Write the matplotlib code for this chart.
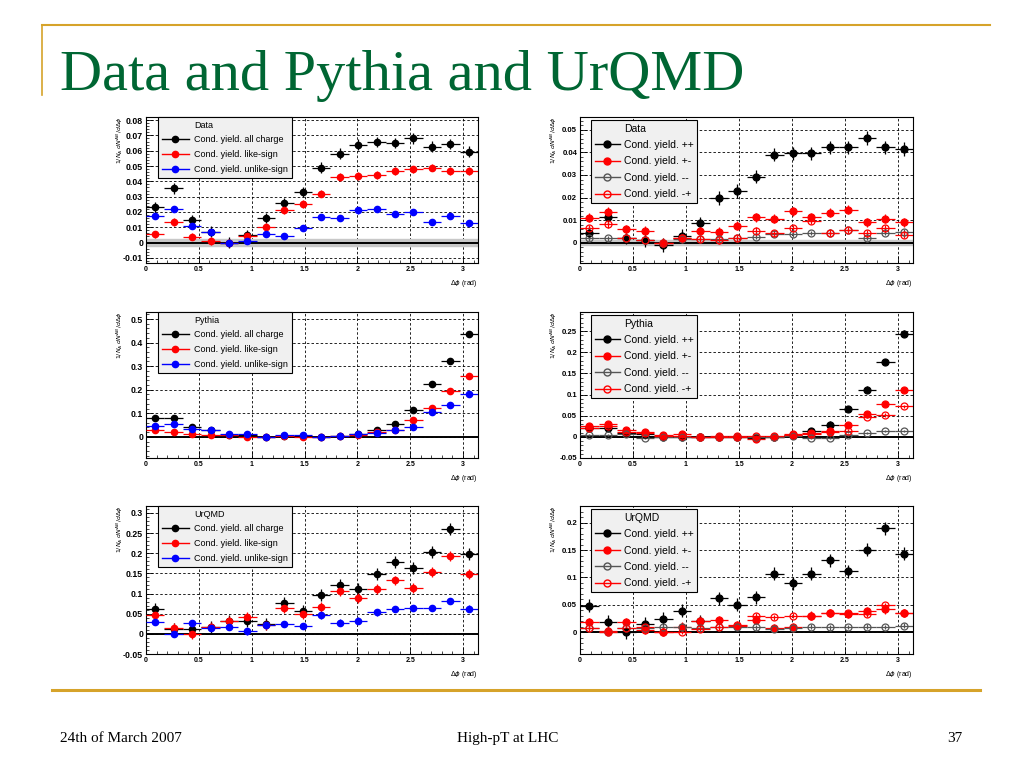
import numpy as np
import matplotlib
matplotlib.use("Agg")
import matplotlib.pyplot as plt
from matplotlib.lines import Line2D
from matplotlib.ticker import MultipleLocator, FormatStrFormatter

plt.rcParams['font.family'] = ['Liberation Sans', 'DejaVu Sans']

# 18 bins in delta phi from 0 to pi
edges = np.linspace(0, np.pi, 19)
phi = 0.5 * (edges[1:] + edges[:-1])
half_bin = 0.5 * (edges[1] - edges[0])

# ---- Data, all / like / unlike sign
data_all = [0.023, 0.0354, 0.0148, 0.0072, 0.0, 0.005, 0.016, 0.0257, 0.033,
            0.049, 0.058, 0.064, 0.0657, 0.065, 0.068, 0.0626, 0.0643, 0.0593]
data_like = [0.0054, 0.0135, 0.0039, 0.001, 0.0, 0.004, 0.0104, 0.0213, 0.025,
             0.032, 0.043, 0.0435, 0.044, 0.0467, 0.0478, 0.049, 0.0467, 0.0467]
data_unlike = [0.0174, 0.0222, 0.0109, 0.0072, -0.0004, 0.001, 0.0054, 0.0046, 0.0093,
               0.017, 0.0159, 0.021, 0.0217, 0.0185, 0.020, 0.0137, 0.0174, 0.0126]

# ---- Data, charge combinations
data_pp = [0.0044, 0.0115, 0.0022, 0.001, -0.001, 0.003, 0.0086, 0.0197, 0.0228,
           0.0293, 0.039, 0.0396, 0.0396, 0.0422, 0.0422, 0.0464, 0.0422, 0.0414]
data_pm = [0.011, 0.0138, 0.0059, 0.0053, 0.0, 0.002, 0.0052, 0.0049, 0.0075,
           0.0112, 0.0106, 0.014, 0.0112, 0.0133, 0.0145, 0.009, 0.0106, 0.009]
data_mm = [0.0019, 0.0019, 0.0022, 0.0012, 0.0, 0.0015, 0.0018, 0.0015, 0.0019,
           0.0027, 0.0038, 0.0037, 0.0044, 0.0044, 0.0056, 0.0022, 0.0044, 0.0049]
data_mp = [0.0064, 0.0081, 0.0019, 0.001, 0.0, 0.0019, 0.0015, 0.001, 0.0019,
           0.0053, 0.0041, 0.0064, 0.0096, 0.0044, 0.0056, 0.0041, 0.0064, 0.0034]

# ---- Pythia
py_all = [0.078, 0.078, 0.041, 0.027, 0.007, 0.006, 0.0, 0.004, 0.003,
          0.0, 0.003, 0.010, 0.031, 0.055, 0.112, 0.226, 0.323, 0.438]
py_like = [0.027, 0.021, 0.010, 0.006, 0.007, 0.0, 0.0, 0.003, 0.001,
           0.0, 0.003, 0.006, 0.021, 0.028, 0.072, 0.123, 0.194, 0.26]
py_unlike = [0.047, 0.055, 0.034, 0.028, 0.010, 0.013, 0.0, 0.006, 0.006,
             0.0, 0.003, 0.013, 0.017, 0.028, 0.042, 0.105, 0.133, 0.182]
py_pp = [0.022, 0.020, 0.009, 0.006, 0.0, 0.0, 0.0, 0.0, 0.0,
         -0.003, 0.0, 0.004, 0.014, 0.029, 0.066, 0.111, 0.177, 0.244]
py_pm = [0.026, 0.030, 0.017, 0.012, 0.004, 0.006, 0.0, 0.002, 0.002,
         -0.004, 0.0, 0.006, 0.008, 0.013, 0.028, 0.054, 0.078, 0.11]
py_mm = [0.004, 0.004, 0.006, -0.002, 0.0, 0.0, 0.0, 0.0, 0.0,
         0.0, 0.0, 0.002, -0.002, -0.002, 0.004, 0.009, 0.013, 0.014]
py_mp = [0.020, 0.025, 0.012, 0.008, 0.002, 0.002, 0.0, 0.0, 0.0,
         0.002, 0.002, 0.004, 0.006, 0.012, 0.014, 0.048, 0.052, 0.072]

# ---- UrQMD
uq_all = [0.0625, 0.012, 0.0117, 0.016, 0.031, 0.031, 0.025, 0.077, 0.056,
          0.096, 0.121, 0.110, 0.149, 0.179, 0.164, 0.202, 0.26, 0.199]
uq_like = [0.0475, 0.014, 0.0, 0.018, 0.033, 0.041, 0.0225, 0.064, 0.050,
           0.066, 0.106, 0.089, 0.112, 0.1325, 0.114, 0.154, 0.193, 0.149]
uq_unlike = [0.029, -0.001, 0.026, 0.014, 0.018, 0.006, 0.021, 0.025, 0.019,
             0.046, 0.028, 0.033, 0.053, 0.062, 0.064, 0.064, 0.082, 0.0625]
uq_pp = [0.048, 0.019, -0.0006, 0.015, 0.024, 0.039, 0.020, 0.0615, 0.050,
         0.064, 0.1067, 0.0896, 0.1067, 0.131, 0.111, 0.1506, 0.19, 0.143]
uq_pm = [0.018, 0.0024, 0.0177, 0.0043, 0.0, 0.010, 0.0207, 0.0213, 0.0116,
         0.0226, 0.0073, 0.0085, 0.030, 0.0348, 0.033, 0.0378, 0.042, 0.0348]
uq_mm = [0.0073, 0.001, 0.0073, 0.0073, 0.010, 0.0085, 0.0073, 0.009, 0.010,
         0.0085, 0.006, 0.0073, 0.010, 0.0085, 0.009, 0.010, 0.009, 0.012]
uq_mp = [0.007, 0.001, 0.007, 0.0085, 0.001, 0.001, 0.006, 0.0085, 0.013,
         0.030, 0.027, 0.030, 0.030, 0.035, 0.035, 0.033, 0.049, 0.035]

# rough statistical errors per series
err = {
    "data3": [0.0035, 0.0025, 0.002],
    "data4": [0.003, 0.002, 0.001, 0.0015],
    "py3": [0.008, 0.006, 0.005],
    "py4": [0.008, 0.005, 0.002, 0.004],
    "uq3": [0.015, 0.012, 0.008],
    "uq4": [0.012, 0.008, 0.004, 0.005],
}

labels3 = ["Cond. yield. all charge", "Cond. yield. like-sign", "Cond. yield. unlike-sign"]
labels4 = ["Cond. yield. ++", "Cond. yield. +-", "Cond. yield. --", "Cond. yield. -+"]

orange = "#D6A32A"
green = "#006633"

fig = plt.figure(figsize=(10.24, 7.68), dpi=100)
fig.patch.set_facecolor("white")

# slide decoration
fig.add_artist(Line2D([42 / 1024, 990 / 1024], [1 - 25 / 768] * 2, color=orange, lw=1.5))
fig.add_artist(Line2D([42 / 1024] * 2, [1 - 25 / 768, 1 - 95 / 768], color=orange, lw=1.2))
fig.add_artist(Line2D([52 / 1024, 980 / 1024], [1 - 690 / 768] * 2, color=orange, lw=2.2))
fig.text(60 / 1024, 1 - 90 / 768, "Data and Pythia and UrQMD", family="Liberation Serif",
         fontsize=42, color=green, ha="left", va="baseline")
fig.text(60 / 1024, 1 - 742 / 768, "24th of March 2007", family="Liberation Serif",
         fontsize=11, ha="left", va="baseline")
fig.text(508 / 1024, 1 - 742 / 768, "High-pT at LHC", family="Liberation Serif",
         fontsize=11, ha="center", va="baseline")
fig.text(962 / 1024, 1 - 742 / 768, "37", family="Liberation Serif",
         fontsize=11, ha="right", va="baseline")


def make_axes(left, top, bottom, width=333):
    return fig.add_axes([left / 1024, 1 - bottom / 768, width / 1024, (bottom - top) / 768])


def style(ax, ylim, ymajor, yminor, label_off, tsize):
    ax.set_xlim(0, np.pi)
    ax.set_ylim(*ylim)
    ax.xaxis.set_major_locator(MultipleLocator(0.5))
    ax.xaxis.set_minor_locator(MultipleLocator(0.1))
    ax.yaxis.set_major_locator(MultipleLocator(ymajor))
    ax.yaxis.set_minor_locator(MultipleLocator(yminor))
    ax.xaxis.set_major_formatter(FormatStrFormatter("%g"))
    ax.yaxis.set_major_formatter(FormatStrFormatter("%g"))
    ax.tick_params(which="both", direction="in", top=False, right=False, pad=2)
    ax.tick_params(axis="y", labelsize=tsize)
    ax.tick_params(axis="x", labelsize=5)
    ax.tick_params(which="major", length=5, width=0.6)
    ax.tick_params(which="minor", length=2.5, width=0.5)
    for t in ax.get_yticklabels() + ax.get_xticklabels():
        t.set_fontweight("bold")
    ax.grid(True, which="major", color="black", lw=0.6, ls=(0, (3, 2.5)))
    ax.set_axisbelow(True)
    for s in ax.spines.values():
        s.set_linewidth(0.8)
    ax.axhline(0, color="black", lw=1.4, zorder=2)
    ax.text(-label_off, 1.0, r"$1/N_{A}\ dN^{AB}/d\Delta\phi$", transform=ax.transAxes,
            rotation=90, ha="center", va="top", fontsize=4.5)
    ax.text(1.0, -0.1, r"$\Delta\phi$ (rad)", transform=ax.transAxes,
            ha="right", va="top", fontsize=5)


def plot3(ax, title, ys, errs):
    cols = ["black", "red", "blue"]
    handles = [Line2D([], [], color="none")]
    for y, e, c in zip(ys, errs, cols):
        ax.errorbar(phi, y, xerr=half_bin, yerr=e, fmt="o", color=c, ms=4.5,
                    elinewidth=0.9, capsize=0, zorder=3)
        handles.append(Line2D([], [], color=c, marker="o", ms=4.5, lw=1))
    leg = ax.legend(handles, [title] + labels3, loc="upper left", bbox_to_anchor=(0.036, 1.0),
                    borderaxespad=0, fontsize=6.5, handlelength=3.0, labelspacing=0.65,
                    fancybox=False, framealpha=1, facecolor="#f0f0f0", edgecolor="black",
                    borderpad=0.4, handletextpad=0.6)
    leg.get_frame().set_linewidth(0.8)
    leg.set_zorder(5)


def plot4(ax, title, ys, errs):
    cols = ["black", "red", "#555555", "red"]
    faces = ["black", "red", "none", "none"]
    handles = [Line2D([], [], color="none")]
    for y, e, c, f in zip(ys, errs, cols, faces):
        ax.errorbar(phi, y, xerr=half_bin, yerr=e, fmt="o", color=c, mfc=f, mec=c, ms=5,
                    mew=0.9, elinewidth=0.9, capsize=0, zorder=3)
        handles.append(Line2D([], [], color=c, marker="o", mfc=f, mec=c, ms=5, lw=1))
    leg = ax.legend(handles, [title] + labels4, loc="upper left", bbox_to_anchor=(0.033, 0.98),
                    borderaxespad=0, fontsize=7.5, handlelength=2.4, labelspacing=0.62,
                    fancybox=False, framealpha=1, facecolor="#f0f0f0", edgecolor="black",
                    borderpad=0.35, handletextpad=0.4)
    leg.get_frame().set_linewidth(0.8)
    leg.set_zorder(5)


# Data
ax1 = make_axes(146, 117, 263, 332)
style(ax1, (-0.0133, 0.082), 0.01, 0.002, 0.078, 6.3)
ax1.axhspan(-0.0025, 0.0025, color="#c8c8c8", zorder=1)
plot3(ax1, "Data", [data_all, data_like, data_unlike], err["data3"])

ax2 = make_axes(580, 117, 263)
style(ax2, (-0.009, 0.0557), 0.01, 0.002, 0.08, 5.6)
ax2.axhspan(-0.0012, 0.0012, color="#c8c8c8", zorder=1)
plot4(ax2, "Data", [data_pp, data_pm, data_mm, data_mp], err["data4"])

# Pythia
ax3 = make_axes(146, 312, 458, 332)
style(ax3, (-0.09, 0.53), 0.1, 0.02, 0.078, 6.3)
plot3(ax3, "Pythia", [py_all, py_like, py_unlike], err["py3"])

ax4 = make_axes(580, 312, 458)
style(ax4, (-0.05, 0.295), 0.05, 0.01, 0.08, 5.6)
plot4(ax4, "Pythia", [py_pp, py_pm, py_mm, py_mp], err["py4"])

# UrQMD
ax5 = make_axes(146, 506, 654, 332)
style(ax5, (-0.05, 0.317), 0.05, 0.01, 0.078, 6.3)
plot3(ax5, "UrQMD", [uq_all, uq_like, uq_unlike], err["uq3"])

ax6 = make_axes(580, 506, 654)
style(ax6, (-0.04, 0.2305), 0.05, 0.01, 0.08, 5.6)
plot4(ax6, "UrQMD", [uq_pp, uq_pm, uq_mm, uq_mp], err["uq4"])

fig.savefig("out.png", dpi=100)
